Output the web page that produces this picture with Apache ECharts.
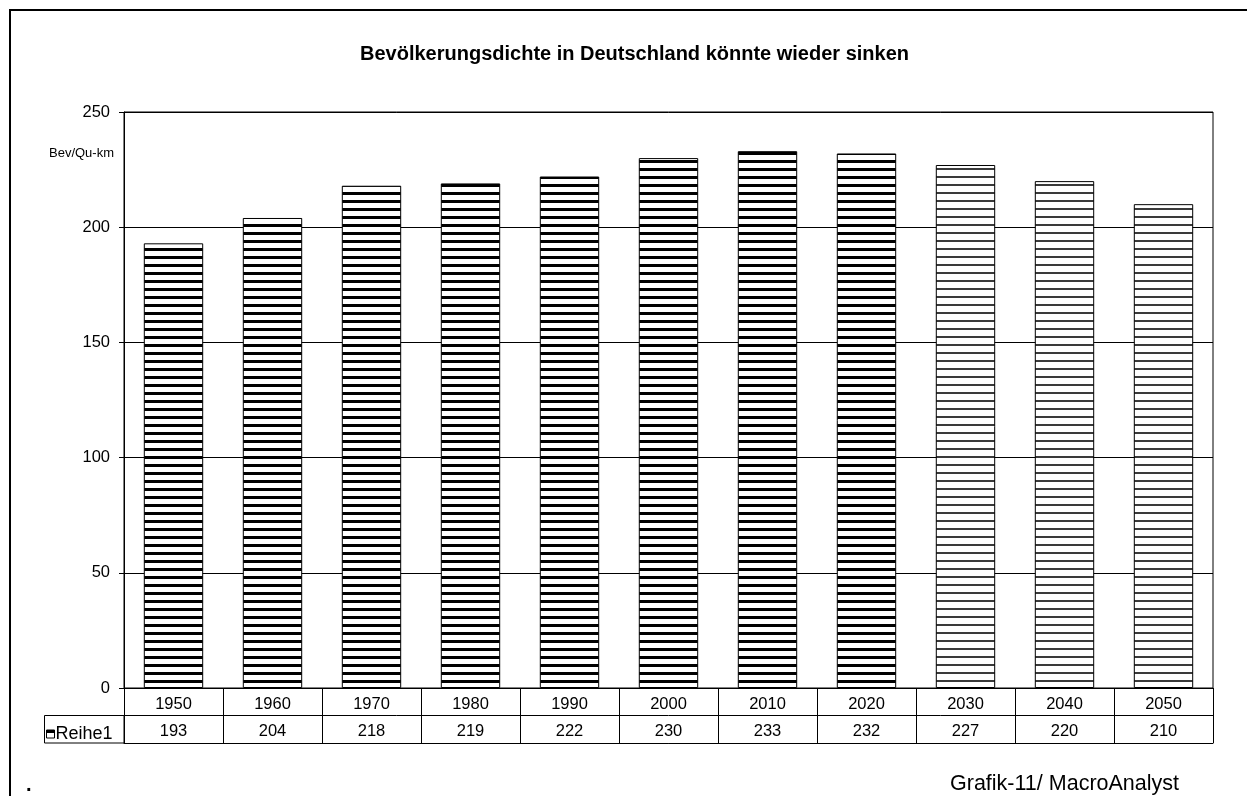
<!DOCTYPE html>
<html>
<head>
<meta charset="utf-8">
<script src="https://cdn.jsdelivr.net/npm/echarts@6/dist/echarts.min.js"></script>
<style>
html,body{margin:0;padding:0;background:#fff;}
#c{width:1247px;height:796px;}
</style>
</head>
<body>
<div id="c"></div>
<script>
const years = ['1950','1960','1970','1980','1990','2000','2010','2020','2030','2040','2050'];
const values = [193, 204, 218, 219, 222, 230, 233, 232, 227, 220, 210];
const projected = [false, false, false, false, false, false, false, false, true, true, true];
const yTicks = {min: 0, max: 250, interval: 50};
const titleText = 'Bevölkerungsdichte in Deutschland könnte wieder sinken';
const unitText = 'Bev/Qu-km';
const seriesName = 'Reihe1';
const sourceText = 'Grafik-11/ MacroAnalyst';

const FONT = '"Liberation Sans", Arial, sans-serif';

function makePattern(band, color) {
  const c = document.createElement('canvas');
  c.width = 8; c.height = 8;
  const ctx = c.getContext('2d');
  ctx.fillStyle = '#fff';
  ctx.fillRect(0, 0, 8, 8);
  ctx.fillStyle = color;
  ctx.fillRect(0, 0, 8, band);
  return {image: c, repeat: 'repeat'};
}
const thick = makePattern(3, '#000');
const thin = makePattern(2, '#3a3a3a');

const chart = echarts.init(document.getElementById('c'), null, {renderer: 'canvas'});

const option = {
  animation: false,
  backgroundColor: '#fff',
  title: {
    text: titleText,
    left: 355, top: 39,
    textStyle: {fontFamily: FONT, fontSize: 20, fontWeight: 'bold', color: '#000'}
  },
  legend: {
    left: 41, top: 720,
    itemWidth: 8, itemHeight: 8, itemGap: 0,
    icon: 'rect',
    data: [{name: seriesName, itemStyle: {color: thick, borderColor: '#000', borderWidth: 1}}],
    textStyle: {fontFamily: FONT, fontSize: 18, color: '#000', padding: [0,0,0,-4]}
  },
  grid: [
    {left: 124, right: 34, top: 112, bottom: 108, show: true, borderColor: '#000', borderWidth: 1, containLabel: false},
    {left: 124, right: 34, top: 688, bottom: 53, containLabel: false}
  ],
  xAxis: [
    {
      type: 'category', data: years, gridIndex: 0,
      axisLine: {show: true, lineStyle: {color: '#000', width: 1}},
      axisTick: {show: false},
      axisLabel: {fontFamily: FONT, fontSize: 16.5, color: '#000', margin: 8, interval: 0},
      splitLine: {show: false}
    },
    {
      type: 'category', data: years, gridIndex: 0, position: 'bottom', offset: 27,
      axisLine: {show: false}, axisTick: {show: false},
      axisLabel: {fontFamily: FONT, fontSize: 16.5, color: '#000', margin: 8, interval: 0,
        formatter: function (v, i) { return String(values[i]); }},
      splitLine: {show: false}
    },
    {
      type: 'category', data: years, gridIndex: 1,
      axisLine: {show: true, lineStyle: {color: '#000', width: 1}},
      axisTick: {show: false}, axisLabel: {show: false},
      splitLine: {show: true, interval: 0, lineStyle: {color: '#000', width: 1}}
    }
  ],
  yAxis: [
    {
      type: 'value', gridIndex: 0, min: yTicks.min, max: yTicks.max, interval: yTicks.interval,
      axisLine: {show: true, lineStyle: {color: '#000', width: 1}},
      axisTick: {show: true, length: 5, lineStyle: {color: '#000'}},
      axisLabel: {fontFamily: FONT, fontSize: 16.5, color: '#000', margin: 14},
      splitLine: {show: true, lineStyle: {color: '#000', width: 1}}
    },
    {
      type: 'value', gridIndex: 1, min: 0, max: 2, interval: 1,
      axisLine: {show: true, lineStyle: {color: '#000', width: 1}},
      axisTick: {show: false}, axisLabel: {show: false},
      splitLine: {show: true, lineStyle: {color: '#000', width: 1}}
    }
  ],
  series: [{
    name: seriesName,
    type: 'bar',
    xAxisIndex: 0, yAxisIndex: 0,
    barCategoryGap: '40%',
    data: values.map((v, i) => ({
      value: v,
      itemStyle: {color: projected[i] ? thin : thick, borderColor: '#000', borderWidth: 1}
    })),
    itemStyle: {color: thick, borderColor: '#000', borderWidth: 1}
  }],
  graphic: [
    {type: 'rect', silent: true, z: 100,
      shape: {x: 10, y: 10, width: 1400, height: 1000},
      style: {fill: 'none', stroke: '#000', lineWidth: 2}},
    {type: 'rect', silent: true, z: 100,
      shape: {x: 44.5, y: 715.5, width: 79.5, height: 27.5},
      style: {fill: 'none', stroke: '#000', lineWidth: 1}},
    {type: 'text', silent: true, z: 100, x: 49, y: 153,
      style: {text: unitText, fontFamily: FONT, fontSize: 13, fill: '#000', verticalAlign: 'middle'}},
    {type: 'text', silent: true, z: 100, x: 950, y: 784,
      style: {text: sourceText, fontFamily: FONT, fontSize: 21.5, fill: '#000', verticalAlign: 'middle'}},
    {type: 'text', silent: true, z: 100, x: 26, y: 785,
      style: {text: '.', fontFamily: FONT, fontSize: 20, fontWeight: 'bold', fill: '#000', verticalAlign: 'middle'}}
  ]
};
chart.setOption(option);
</script>
</body>
</html>
